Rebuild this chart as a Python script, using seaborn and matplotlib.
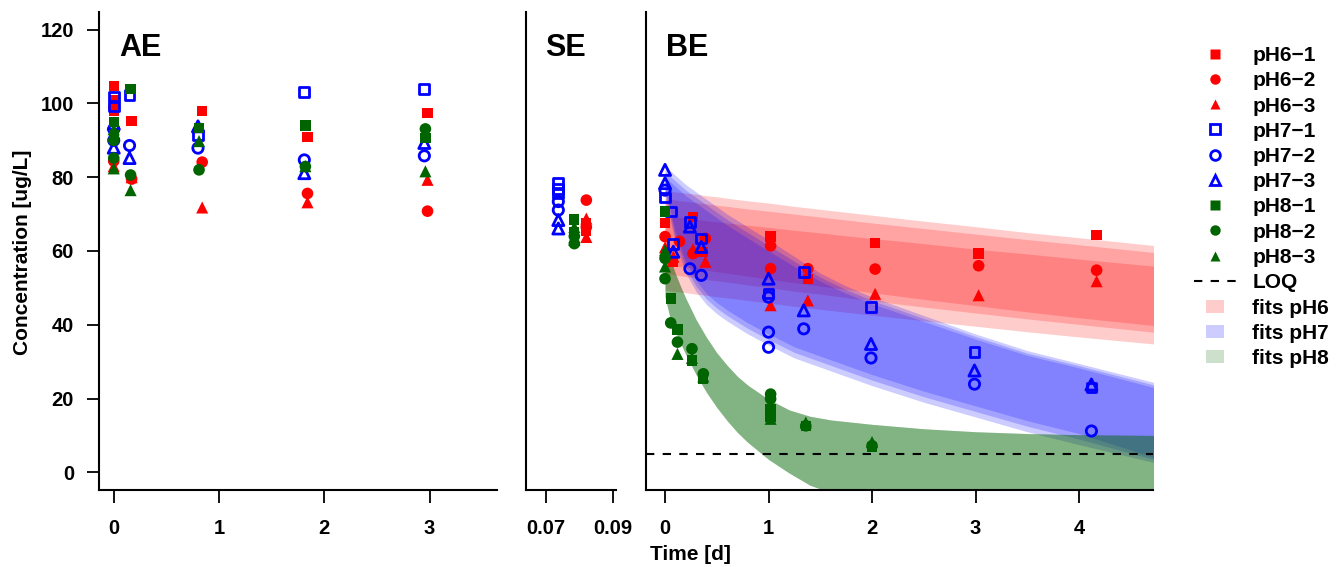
import numpy as np
import pandas as pd
import matplotlib
matplotlib.use("Agg")
import matplotlib.pyplot as plt
import matplotlib.patches as mpatches
from matplotlib.lines import Line2D
from matplotlib.legend_handler import HandlerPatch
import seaborn as sns

# ---------------- data ----------------
series = ["pH6-1", "pH6-2", "pH6-3", "pH7-1", "pH7-2", "pH7-3", "pH8-1", "pH8-2", "pH8-3"]
labels = ["pH6\u22121", "pH6\u22122", "pH6\u22123", "pH7\u22121", "pH7\u22122", "pH7\u22123",
          "pH8\u22121", "pH8\u22122", "pH8\u22123"]

# AE panel (time [d], concentration)
ae_t = {
    "pH6-1": [0, 0, 0, 0.17, 0.84, 1.84, 2.98],
    "pH6-2": [0, 0, 0.17, 0.84, 1.84, 2.98],
    "pH6-3": [0, 0, 0.17, 0.84, 1.84, 2.98],
    "pH7-1": [0, 0, 0.15, 0.80, 1.81, 2.95],
    "pH7-2": [0, 0, 0.15, 0.80, 1.81, 2.95],
    "pH7-3": [0, 0, 0.15, 0.80, 1.81, 2.95],
    "pH8-1": [0, 0, 0.16, 0.81, 1.82, 2.96],
    "pH8-2": [0, 0, 0.16, 0.81, 1.82, 2.96],
    "pH8-3": [0, 0, 0.16, 0.81, 1.82, 2.96],
}
ae_v = {
    "pH6-1": [104.8, 101.0, 98.0, 95.2, 97.9, 91.0, 97.4],
    "pH6-2": [99.0, 84.4, 79.5, 84.1, 75.6, 70.8],
    "pH6-3": [91.5, 83.0, 80.0, 71.8, 73.2, 79.3],
    "pH7-1": [101.9, 99.2, 102.2, 91.5, 103.1, 104.0],
    "pH7-2": [93.0, 90.0, 88.6, 87.9, 84.7, 85.8],
    "pH7-3": [94.5, 88.0, 85.2, 93.8, 81.1, 89.3],
    "pH8-1": [95.0, 91.5, 104.0, 93.3, 94.0, 90.6],
    "pH8-2": [90.0, 85.2, 80.6, 82.0, 82.9, 93.1],
    "pH8-3": [93.0, 82.4, 76.5, 89.8, 83.0, 81.6],
}

# SE panel
se_t = {
    "pH6-1": [0.0821, 0.0821], "pH6-2": [0.0821, 0.0821], "pH6-3": [0.0821, 0.0821],
    "pH7-1": [0.0737, 0.0737, 0.0737], "pH7-2": [0.0737, 0.0737], "pH7-3": [0.0737, 0.0737],
    "pH8-1": [0.0785, 0.0785], "pH8-2": [0.0785, 0.0785], "pH8-3": [0.0785, 0.0785],
}
se_v = {
    "pH6-1": [67.5, 65.5], "pH6-2": [73.8, 66.5], "pH6-3": [68.8, 63.8],
    "pH7-1": [78.4, 76.8, 75.6], "pH7-2": [73.4, 71.1], "pH7-3": [68.4, 66.1],
    "pH8-1": [68.5, 65.0], "pH8-2": [64.0, 62.0], "pH8-3": [66.5, 63.0],
}

# BE panel
be_t = {
    "pH6-1": [0, 0.08, 0.27, 0.37, 1.02, 1.38, 2.03, 3.03, 4.17],
    "pH6-2": [0, 0.14, 0.27, 0.39, 1.02, 1.02, 1.38, 2.03, 3.03, 4.17],
    "pH6-3": [0, 0.08, 0.27, 0.39, 1.02, 1.38, 2.03, 3.03, 4.17],
    "pH7-1": [0, 0.06, 0.08, 0.24, 0.35, 1.00, 1.34, 1.99, 2.99, 4.12],
    "pH7-2": [0, 0.24, 0.35, 1.00, 1.00, 1.00, 1.34, 1.99, 2.99, 4.12],
    "pH7-3": [0, 0, 0.08, 0.24, 0.35, 1.00, 1.34, 1.99, 2.99, 4.12],
    "pH8-1": [0, 0.055, 0.12, 0.26, 0.37, 1.02, 1.02, 1.36, 2.00],
    "pH8-2": [0, 0, 0.055, 0.12, 0.26, 0.37, 1.02, 1.02, 1.36, 2.00],
    "pH8-3": [0, 0, 0.12, 0.26, 0.37, 1.02, 1.36, 2.00],
}
be_v = {
    "pH6-1": [67.5, 57.1, 69.3, 59.8, 63.9, 52.5, 62.2, 59.3, 64.3],
    "pH6-2": [63.9, 62.6, 59.3, 63.4, 61.4, 55.2, 55.2, 55.1, 56.0, 54.8],
    "pH6-3": [61.0, 58.5, 60.5, 57.1, 45.3, 46.6, 48.4, 48.0, 51.8],
    "pH7-1": [74.5, 70.7, 62.0, 67.9, 63.4, 48.5, 54.3, 44.8, 32.6, 23.0],
    "pH7-2": [76.5, 55.2, 53.4, 47.5, 38.0, 33.9, 38.9, 31.0, 23.9, 11.2],
    "pH7-3": [82.0, 78.4, 59.8, 66.6, 61.1, 52.5, 43.9, 34.8, 27.6, 23.8],
    "pH8-1": [70.7, 47.1, 38.7, 30.3, 25.3, 17.1, 14.9, 12.5, 6.8],
    "pH8-2": [58.0, 52.5, 40.5, 35.3, 33.5, 26.7, 21.2, 19.9, 12.6, 7.2],
    "pH8-3": [60.2, 55.8, 32.1, 31.0, 26.0, 14.5, 13.5, 8.2],
}

LOQ = 5.0

# fitted bands, three fits per pH
fit_t = [0, 0.1, 0.2, 0.3, 0.4, 0.5, 0.6, 0.8, 1.0, 1.25, 1.5, 1.75, 2.0, 2.5, 3.0, 3.5, 4.0, 4.72]
ph6_hi = [
    [76.4, 76.0, 75.7, 75.4, 75.0, 74.7, 74.3, 73.6, 73.0, 72.1, 71.3, 70.5, 69.7, 68.1, 66.6, 65.0, 63.6, 61.5],
    [74.1, 73.8, 73.4, 73.1, 72.8, 72.4, 72.1, 71.4, 70.8, 70.0, 69.2, 68.4, 67.6, 66.1, 64.6, 63.1, 61.7, 59.6],
    [69.5, 69.2, 68.9, 68.5, 68.2, 67.9, 67.6, 67.0, 66.4, 65.6, 64.9, 64.1, 63.4, 62.0, 60.5, 59.2, 57.8, 55.9],
]
ph6_lo = [
    [49.4, 49.0, 48.7, 48.3, 48.0, 47.6, 47.3, 46.6, 45.9, 45.0, 44.2, 43.4, 42.6, 41.1, 39.6, 38.1, 36.7, 34.8],
    [53.9, 53.5, 53.1, 52.7, 52.3, 51.9, 51.6, 50.8, 50.1, 49.1, 48.3, 47.4, 46.5, 44.8, 43.2, 41.6, 40.1, 38.0],
    [56.4, 56.0, 55.6, 55.2, 54.8, 54.4, 54.0, 53.2, 52.4, 51.4, 50.5, 49.6, 48.7, 46.9, 45.2, 43.5, 41.9, 39.8],
]
ph7_hi = [
    [83.0, 80.5, 78.0, 76.0, 74.0, 72.0, 70.0, 66.5, 63.0, 58.5, 54.0, 50.5, 47.5, 42.5, 37.5, 33.0, 29.5, 24.4],
    [81.5, 79.0, 76.5, 74.5, 72.5, 70.5, 68.5, 65.0, 61.5, 57.2, 52.9, 49.5, 46.6, 41.7, 36.8, 32.3, 28.9, 23.7],
    [80.0, 77.5, 75.0, 73.0, 71.0, 69.0, 67.0, 63.5, 60.0, 55.8, 51.8, 48.5, 45.7, 40.9, 36.1, 31.7, 28.3, 23.0],
]
ph7_lo = [
    [75.0, 62.0, 54.0, 49.0, 45.5, 43.0, 41.0, 37.5, 34.5, 31.0, 28.5, 26.0, 23.5, 19.0, 15.0, 11.0, 7.5, 2.7],
    [76.0, 63.5, 55.5, 50.5, 47.0, 44.5, 42.5, 39.0, 36.0, 32.5, 30.0, 27.5, 25.0, 20.5, 16.5, 12.5, 9.0, 3.5],
    [77.0, 65.0, 57.0, 52.0, 48.5, 46.0, 44.0, 40.5, 37.5, 34.0, 31.5, 29.0, 26.5, 22.0, 18.0, 14.0, 10.5, 4.1],
]
ph8_t = [0, 0.05, 0.1, 0.15, 0.2, 0.3, 0.4, 0.5, 0.6, 0.7, 0.8, 1.0, 1.2, 1.4, 1.6, 1.8, 2.0, 2.5, 3.0, 3.5, 4.0, 4.72]
ph8_hi = [62.0, 57.8, 53.9, 50.4, 47.2, 41.4, 36.6, 32.4, 29.0, 26.0, 23.6, 19.8, 16.9, 15.2, 14.2, 13.6, 13.0, 11.8, 11.0, 10.5, 10.2, 10.0]
ph8_lo = [47.5, 41.7, 38.2, 35.0, 32.0, 26.5, 21.7, 17.6, 14.0, 10.8, 8.1, 3.5, -0.2, -3.5, -5.5, -6.8, -7.7, -8.9, -9.5, -9.8, -10.0, -10.0]

# ---------------- styling ----------------
RED, BLUE, GREEN = "#FF0000", "#0000FF", "#006400"
mstyle = {
    "pH6-1": ("s", RED, True), "pH6-2": ("o", RED, True), "pH6-3": ("^", RED, True),
    "pH7-1": ("s", BLUE, False), "pH7-2": ("o", BLUE, False), "pH7-3": ("^", BLUE, False),
    "pH8-1": ("s", GREEN, True), "pH8-2": ("o", GREEN, True), "pH8-3": ("^", GREEN, True),
}
msize = {"s": 55, "o": 70, "^": 76}
msize_open = {"s": 50, "o": 55, "^": 64}

sns.set_style("ticks")
plt.rcParams["font.family"] = ["Liberation Sans", "DejaVu Sans"]
plt.rcParams["font.weight"] = "bold"
plt.rcParams["axes.labelweight"] = "bold"
for key in ("text.color", "axes.labelcolor", "xtick.color", "ytick.color", "axes.edgecolor"):
    plt.rcParams[key] = "black"

W, H = 1337, 567
fig = plt.figure(figsize=(W / 100, H / 100), dpi=100)

def axrect(x0, x1, y0=12, y1=490):
    return [x0 / W, 1 - y1 / H, (x1 - x0) / W, (y1 - y0) / H]

ax_ae = fig.add_axes(axrect(99, 497))
ax_se = fig.add_axes(axrect(526, 616))
ax_be = fig.add_axes(axrect(646, 1153))

rows = []
for panel, tt, vv in (("AE", ae_t, ae_v), ("SE", se_t, se_v), ("BE", be_t, be_v)):
    for s in series:
        for t, v in zip(tt[s], vv[s]):
            rows.append((panel, s, t, v))
df = pd.DataFrame(rows, columns=["panel", "series", "time", "conc"])

# bands (drawn first)
for hi, lo in zip(ph6_hi, ph6_lo):
    ax_be.fill_between(fit_t, lo, hi, color=RED, alpha=0.2, linewidth=0, zorder=1)
for hi, lo in zip(ph7_hi, ph7_lo):
    ax_be.fill_between(fit_t, lo, hi, color=BLUE, alpha=0.2, linewidth=0, zorder=1)
for _ in range(3):
    ax_be.fill_between(ph8_t, ph8_lo, ph8_hi, color=GREEN, alpha=0.2, linewidth=0, zorder=1)
ax_be.axhline(LOQ, color="black", lw=1.5, dashes=(4, 4), zorder=2)

axes = {"AE": ax_ae, "SE": ax_se, "BE": ax_be}
for panel, ax in axes.items():
    for s in series:
        d = df[(df.panel == panel) & (df.series == s)]
        mk, col, filled = mstyle[s]
        if filled:
            sns.scatterplot(data=d, x="time", y="conc", ax=ax, marker=mk, s=msize[mk],
                            color=col, edgecolor="none", linewidth=0, legend=False, zorder=3)
        else:
            sns.scatterplot(data=d, x="time", y="conc", ax=ax, marker=mk, s=msize_open[mk],
                            facecolor="none", edgecolor=col, linewidth=2.0, legend=False, zorder=3)

ylim = (-4.8, 124.8)
ax_ae.set_xlim(-0.14, 3.64)
ax_se.set_xlim(0.064, 0.091)
ax_be.set_xlim(-0.184, 4.715)
for ax in axes.values():
    ax.set_ylim(*ylim)
    ax.set_xlabel("")
    ax.set_ylabel("")
    for sp in ("top", "right"):
        ax.spines[sp].set_visible(False)
    for sp in ("left", "bottom"):
        ax.spines[sp].set_linewidth(1.5)
        ax.spines[sp].set_color("black")
    ax.tick_params(direction="out", length=9, width=1.3, labelsize=14.5, colors="black")
    ax.tick_params(axis="x", pad=12)
    ax.tick_params(axis="y", pad=9)
    ax.set_facecolor("white")

ax_ae.set_xticks([0, 1, 2, 3])
ax_ae.set_yticks([0, 20, 40, 60, 80, 100, 120])
ax_se.set_xticks([0.07, 0.09])
ax_se.set_xticklabels(["0.07", "0.09"])
ax_be.set_xticks([0, 1, 2, 3, 4])
for ax in (ax_se, ax_be):
    ax.tick_params(axis="y", left=False, labelleft=False)

for ax, txt, xf in ((ax_ae, "AE", 0.05), (ax_se, "SE", 0.21), (ax_be, "BE", 0.04)):
    ax.text(xf, 0.925, txt, transform=ax.transAxes, fontsize=22, fontweight="bold",
            ha="left", va="center", color="black")

fig.text(23 / W, 1 - 252 / H, "Concentration [ug/L]", rotation=90, fontsize=15,
         fontweight="bold", ha="center", va="center", color="black")
fig.text(690 / W, 1 - 555 / H, "Time [d]", fontsize=15, fontweight="bold",
         ha="center", va="center", color="black")

# legend
handles = []
for s in series:
    mk, col, filled = mstyle[s]
    if filled:
        handles.append(Line2D([], [], linestyle="none", marker=mk, markersize=7.5,
                              markerfacecolor=col, markeredgecolor="none"))
    else:
        handles.append(Line2D([], [], linestyle="none", marker=mk, markersize=7.0,
                              markerfacecolor="none", markeredgecolor=col, markeredgewidth=2.0))
handles.append(Line2D([], [], color="black", lw=1.5, dashes=(4, 4)))
handles += [mpatches.Patch(facecolor=c, alpha=0.2, edgecolor="none") for c in (RED, BLUE, GREEN)]
leg_labels = labels + ["LOQ", "fits pH6", "fits pH7", "fits pH8"]

def rect_func(legend, orig_handle, xdescent, ydescent, width, height, fontsize):
    w, h = 12.5, 9.5
    return mpatches.Rectangle((width / 2 - w / 2 - xdescent, height / 2 - h / 2 - ydescent), w, h)

leg = fig.legend(handles, leg_labels, loc="upper left", bbox_to_anchor=(1194 / W, 1 - 46 / H),
                 frameon=False, prop={"weight": "bold", "size": 15}, handlelength=2.0,
                 handletextpad=0.8, labelspacing=0.30, borderpad=0, borderaxespad=0,
                 handler_map={mpatches.Patch: HandlerPatch(patch_func=rect_func)})
for t in leg.get_texts():
    t.set_color("black")

fig.savefig("out.png", dpi=100, facecolor="white")
